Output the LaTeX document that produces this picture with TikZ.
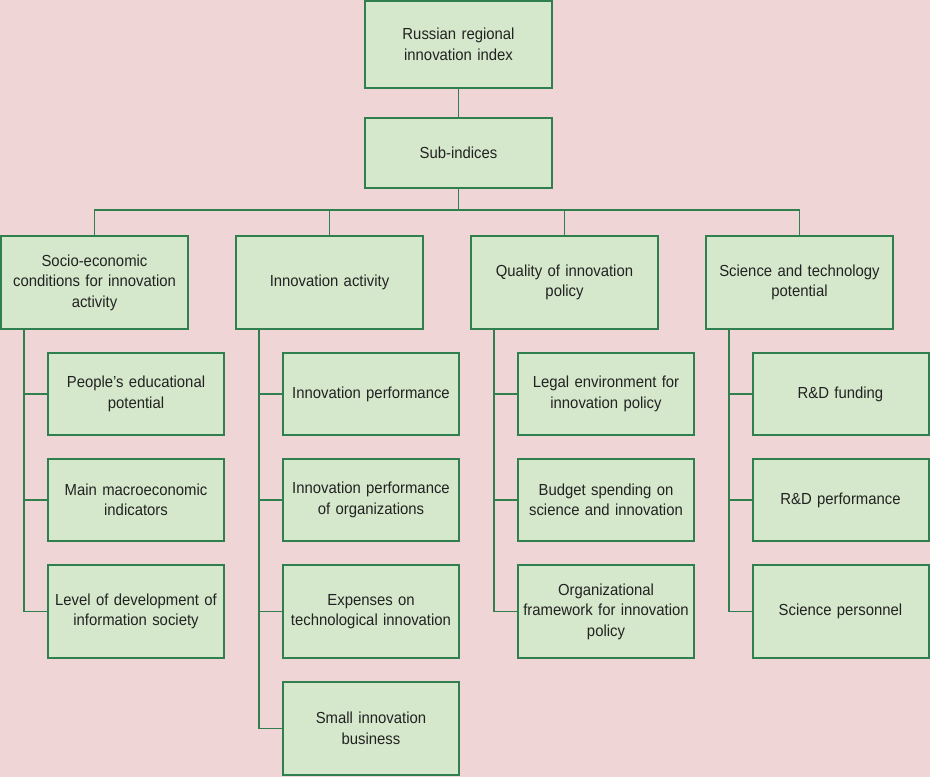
\documentclass[tikz,border=0pt]{standalone}
\usepackage{fontspec}
\setmainfont{Liberation Sans}[FakeStretch=0.93]
\usetikzlibrary{calc}
\definecolor{bgpink}{HTML}{F0D5D6}
\definecolor{boxfill}{HTML}{D5E8CB}
\definecolor{boxline}{HTML}{2F7F4F}
\definecolor{txt}{HTML}{222222}
\begin{document}
\begin{tikzpicture}[x=1pt,y=-1pt,
  box/.style={draw=boxline,fill=boxfill,line width=2pt,align=center,text=txt,
    font=\fontsize{16}{20.5}\selectfont,inner sep=0pt,text width=172pt},
  wbox/.style={box,minimum width=187pt},
  kbox/.style={box,minimum width=176pt},
  conn/.style={draw=boxline,line width=1.8pt}]
\fill[bgpink] (0,0) rectangle (930,777);
\useasboundingbox (0,0) rectangle (930,777);
% top
\node[wbox,minimum height=87pt] (top) at (458.5,44.5) {Russian regional\\innovation index};
\node[wbox,minimum height=70pt] (sub) at (458.5,153) {Sub-indices};
% categories
\node[wbox,minimum height=93pt] (c1) at (94.5,282.5) {Socio-economic\\conditions for innovation\\activity};
\node[wbox,minimum height=93pt] (c2) at (329.5,282.5) {Innovation activity};
\node[wbox,minimum height=93pt] (c3) at (564.5,282.5) {Quality of innovation\\policy};
\node[wbox,minimum height=93pt] (c4) at (799.5,282.5) {Science and technology\\potential};
% children col 1
\node[kbox,minimum height=82pt] (k11) at (136,394) {People’s educational\\potential};
\node[kbox,minimum height=82pt] (k12) at (136,500) {Main macroeconomic\\indicators};
\node[kbox,minimum height=93pt] (k13) at (136,611.5) {Level of development of\\information society};
% col 2
\node[kbox,minimum height=82pt] (k21) at (371,394) {Innovation performance};
\node[kbox,minimum height=82pt] (k22) at (371,500) {Innovation performance\\of organizations};
\node[kbox,minimum height=93pt] (k23) at (371,611.5) {Expenses on\\technological innovation};
\node[kbox,minimum height=93pt] (k24) at (371,728.5) {Small innovation\\business};
% col 3
\node[kbox,minimum height=82pt] (k31) at (606,394) {Legal environment for\\innovation policy};
\node[kbox,minimum height=82pt] (k32) at (606,500) {Budget spending on\\science and innovation};
\node[kbox,minimum height=93pt] (k33) at (606,611.5) {Organizational\\framework for innovation\\policy};
% col 4
\node[kbox,minimum height=82pt] (k41) at (840.5,394) {R\&D funding};
\node[kbox,minimum height=82pt] (k42) at (840.5,500) {R\&D performance};
\node[kbox,minimum height=93pt] (k43) at (840.5,611.5) {Science personnel};
% connectors top
\draw[conn] (top.south) -- (sub.north);
\coordinate (bus) at (458.5,210);
\draw[conn] (sub.south) -- (bus);
\draw[conn] (c1.north) |- (bus) -| (c4.north);
\draw[conn] (c2.north) -- (c2.north |- bus);
\draw[conn] (c3.north) -- (c3.north |- bus);
% trunks
\coordinate (t1) at (24,329);
\coordinate (t2) at (259,329);
\coordinate (t3) at (494,329);
\coordinate (t4) at (729,329);
\draw[conn] (t1) |- (k13.west);
\draw[conn] (k11.west) -- (k11.west -| t1);
\draw[conn] (k12.west) -- (k12.west -| t1);
\draw[conn] (t2) |- (k24.west);
\draw[conn] (k21.west) -- (k21.west -| t2);
\draw[conn] (k22.west) -- (k22.west -| t2);
\draw[conn] (k23.west) -- (k23.west -| t2);
\draw[conn] (t3) |- (k33.west);
\draw[conn] (k31.west) -- (k31.west -| t3);
\draw[conn] (k32.west) -- (k32.west -| t3);
\draw[conn] (t4) |- (k43.west);
\draw[conn] (k41.west) -- (k41.west -| t4);
\draw[conn] (k42.west) -- (k42.west -| t4);
\end{tikzpicture}
\end{document}
